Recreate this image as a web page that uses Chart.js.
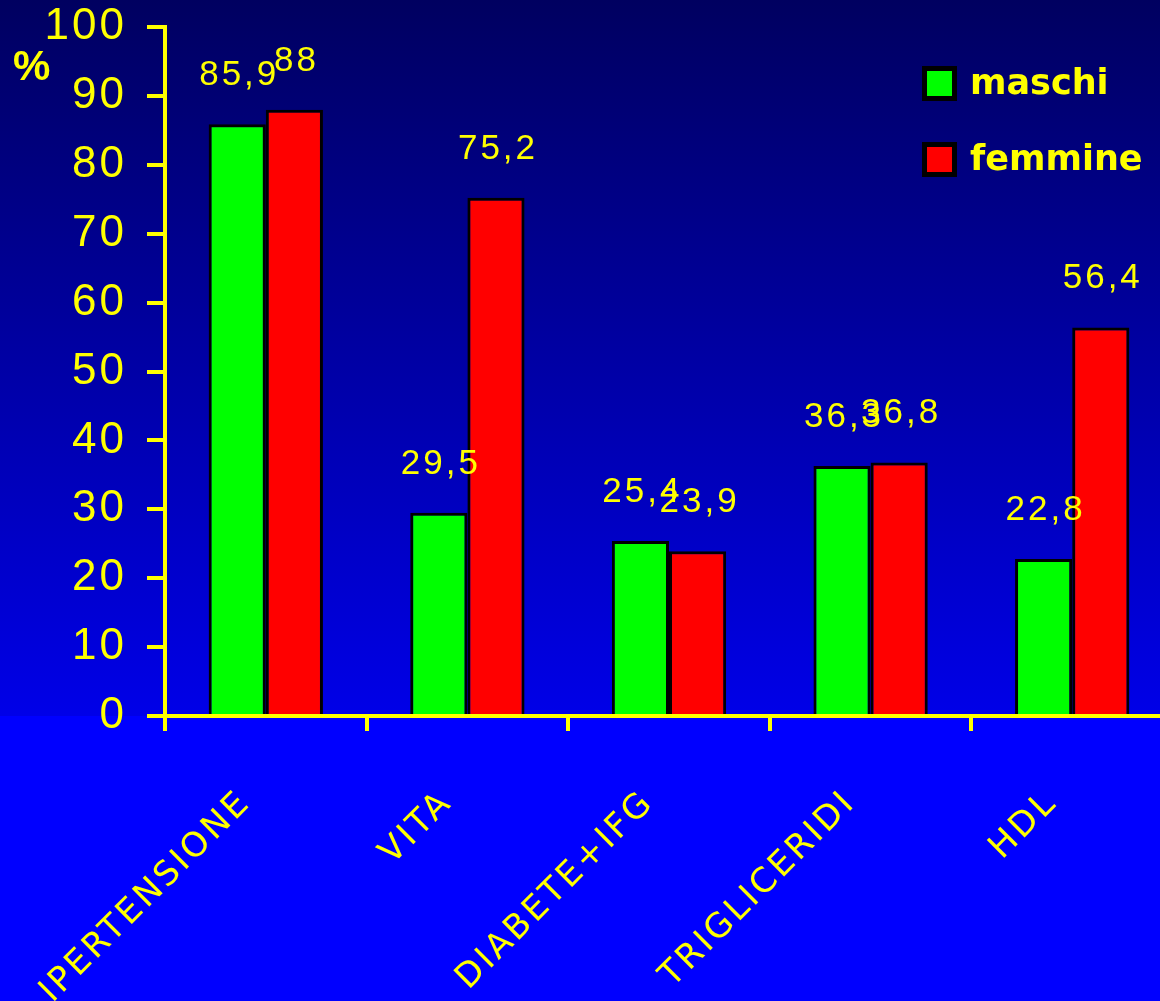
<!DOCTYPE html>
<html>
<head>
<meta charset="utf-8">
<script src="https://cdn.jsdelivr.net/npm/chart.js@4/dist/chart.umd.min.js"></script>
<style>
  html, body { margin: 0; padding: 0; overflow: hidden; background: #0000ff; }
  #wrap { position: relative; width: 1173px; height: 1001px; }
</style>
</head>
<body>
<div id="wrap"><canvas id="c"></canvas></div>
<script>
// Prevalenza dei fattori di rischio (%) per sesso
const categories = ['IPERTENSIONE', 'VITA', 'DIABETE+IFG', 'TRIGLICERIDI', 'HDL'];
const maschi = [85.9, 29.5, 25.4, 36.3, 22.8];
const femmine = [88, 75.2, 23.9, 36.8, 56.4];
const seriesNames = ['maschi', 'femmine'];
const yTicks = [0, 10, 20, 30, 40, 50, 60, 70, 80, 90, 100];
const yUnit = '%';

const YELLOW = '#ffff00';
const SANS = 'DejaVu Sans';
const ARIAL = 'Liberation Sans';

const fmt = v => String(v).replace('.', ',');

// Sfondo: sfumatura blu scuro -> blu sopra l'asse, blu pieno sotto
const backgroundPlugin = {
  id: 'sfondo',
  beforeDraw(chart) {
    const { ctx, width, height, chartArea } = chart;
    ctx.save();
    const g = ctx.createLinearGradient(0, 0, 0, chartArea.bottom);
    g.addColorStop(0, '#000060');
    g.addColorStop(1, '#0000e8');
    ctx.fillStyle = g;
    ctx.fillRect(0, 0, width, chartArea.bottom);
    ctx.fillStyle = '#0000ff';
    ctx.fillRect(0, chartArea.bottom, width, height - chartArea.bottom);
    ctx.restore();
    // spaziatura dei caratteri per le etichette degli assi
    ctx.letterSpacing = '3px';
  }
};

// Valori sopra le barre
const valueLabels = {
  id: 'valori',
  afterDatasetsDraw(chart) {
    const { ctx } = chart;
    ctx.save();
    ctx.fillStyle = YELLOW;
    ctx.font = `35px "${ARIAL}"`;
    ctx.letterSpacing = '3px';
    ctx.textAlign = 'center';
    ctx.textBaseline = 'alphabetic';
    chart.data.datasets.forEach((ds, di) => {
      chart.getDatasetMeta(di).data.forEach((bar, i) => {
        ctx.fillText(fmt(ds.data[i]), bar.x + 2, bar.y - 39);
      });
    });
    ctx.restore();
  }
};

// Unità dell'asse y e legenda
const extras = {
  id: 'extra',
  afterDraw(chart) {
    const { ctx } = chart;
    ctx.save();
    ctx.letterSpacing = '0px';
    ctx.fillStyle = YELLOW;
    ctx.font = `bold 42px "${ARIAL}"`;
    ctx.textAlign = 'left';
    ctx.textBaseline = 'middle';
    ctx.fillText(yUnit, 13, 68);

    chart.data.datasets.forEach((ds, i) => {
      const y = 83 + i * 76;
      ctx.fillStyle = '#000000';
      ctx.fillRect(922, y - 17, 35, 35);
      ctx.fillStyle = ds.backgroundColor;
      ctx.fillRect(927, y - 12, 25, 25);
      ctx.fillStyle = YELLOW;
      ctx.font = `bold 35px "${SANS}"`;
      ctx.fillText(ds.label, 970, y + 2);
    });
    ctx.restore();
  }
};

new Chart(document.getElementById('c'), {
  type: 'bar',
  data: {
    labels: categories,
    datasets: [
      { label: seriesNames[0], data: maschi, backgroundColor: '#00ff00', borderColor: '#000000', borderWidth: 3 },
      { label: seriesNames[1], data: femmine, backgroundColor: '#ff0000', borderColor: '#000000', borderWidth: 3 }
    ]
  },
  options: {
    responsive: true,
    maintainAspectRatio: false,
    animation: false,
    datasets: { bar: { categoryPercentage: 0.567, barPercentage: 1.0 } },
    layout: { autoPadding: false, padding: { top: 27, right: 0, left: 0, bottom: 0 } },
    plugins: { legend: { display: false }, tooltip: { enabled: false } },
    scales: {
      x: {
        border: { color: YELLOW, width: 4 },
        grid: { offset: true, drawOnChartArea: false, color: YELLOW, lineWidth: 4, tickLength: 15 },
        ticks: {
          color: YELLOW,
          font: { family: SANS, size: 34 },
          minRotation: 45,
          maxRotation: 45,
          autoSkip: false,
          padding: 52,
          labelOffset: -20
        },
        afterFit(scale) { scale.height = 285; }
      },
      y: {
        min: 0,
        max: 100,
        afterBuildTicks(scale) { scale.ticks = yTicks.map(v => ({ value: v })); },
        border: { color: YELLOW, width: 4 },
        grid: { drawOnChartArea: false, color: YELLOW, lineWidth: 4, tickLength: 18 },
        ticks: { color: YELLOW, font: { family: ARIAL, size: 44, lineHeight: 0.1 }, padding: 20 },
        afterFit(scale) { scale.width = 165; }
      }
    }
  },
  plugins: [backgroundPlugin, valueLabels, extras]
});
</script>
</body>
</html>
